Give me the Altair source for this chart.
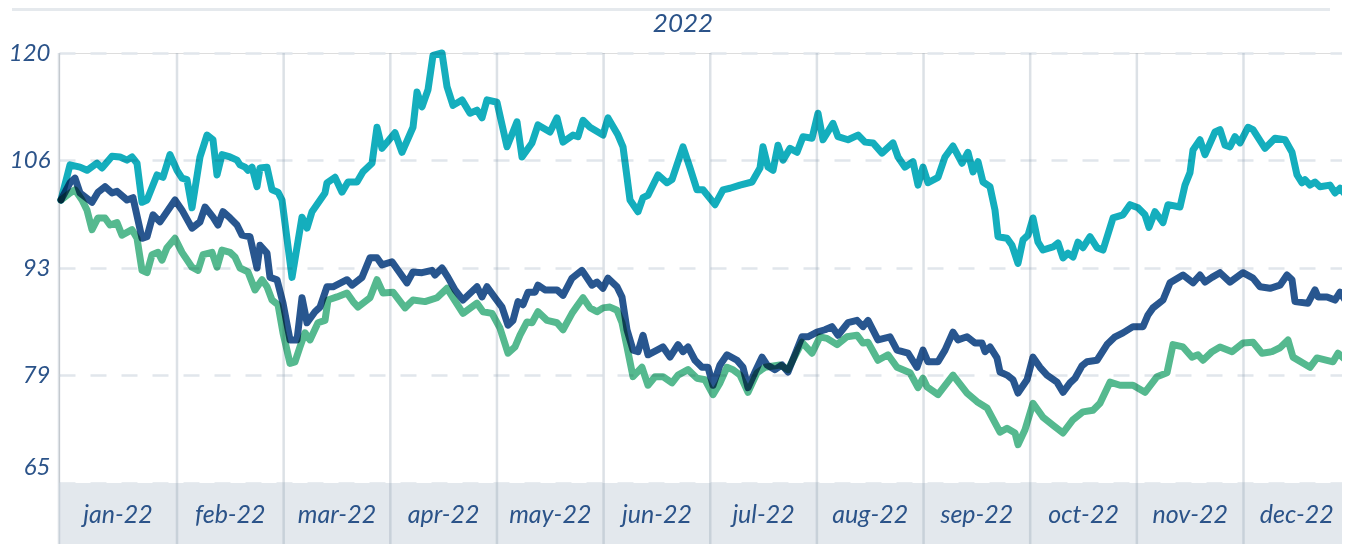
import altair as alt
import pandas as pd

# ---------------- data ----------------
# x = trading-day index of the year, y = index level
teal_day = [0, 1.8, 3.8, 5.2, 7.2, 8.2, 10.2, 11.8, 13.2, 14.2,
            15.2, 16.2, 17.2, 19.2, 20.4, 21.8, 23.2, 24.2, 25.2, 26.2,
            27.8, 29.2, 30.4, 31.2, 32.2, 33.8, 35.2, 35.8, 36.8, 37.4,
            38.2, 39.2, 39.8, 41.2, 42.2, 43.4, 44.2, 46.2, 48.2, 49.2,
            50.2, 52.8, 53.2, 54.8, 56.2, 57.4, 59.2, 60.4, 62.2, 63.2,
            64.2, 66.8, 68.2, 70.4, 71.2, 72.2, 73.4, 74.4, 76.2, 77.2,
            78.4, 80.2, 81.8, 83.2, 84.2, 85.2, 87.2, 89.2, 91.2, 92.2,
            94.2, 95.4, 97.8, 99.2, 100.4, 102.4, 103.4, 104.4, 105.8, 108.4,
            109.4, 111.4, 112.4, 113.8, 115.4, 116.4, 117.4, 119.4, 121.2, 122.2,
            124.4, 125.8, 127.2, 128.4, 130.8, 132.4, 133.8, 135.8, 138.2, 139.8,
            140.4, 141.4, 142.4, 143.4, 144.4, 145.8, 147.2, 148.4, 150.2, 151.4,
            152.4, 154.4, 155.4, 157.4, 159.4, 160.8, 162.4, 164.2, 166.4, 167.4,
            168.8, 170.4, 171.4, 172.4, 173.4, 175.4, 176.8, 178.4, 180.2, 181.4,
            182.4, 183.4, 184.4, 185.8, 186.8, 187.4, 189.2, 190.2, 191.4, 192.4,
            193.4, 194.4, 195.4, 196.4, 198.4, 199.4, 200.4, 201.4, 202.4, 203.4,
            204.4, 205.8, 207.2, 208.4, 210.4, 212.4, 213.8, 215.4, 216.8, 217.6,
            218.8, 220.4, 221.4, 223.8, 224.8, 225.8, 226.4, 227.8, 228.8, 230.8,
            231.8, 232.8, 233.8, 234.8, 235.8, 237.4, 238.4, 240.8, 242.8, 244.8,
            246.2, 247.2, 248.2, 248.8, 249.8, 250.8, 251.8, 253.8, 254.8, 255.8,
            257.0]
teal_val = [101.2, 105.7, 105.4, 105.0, 105.9, 105.3, 106.8, 106.7, 106.3, 106.7,
            105.9, 100.9, 101.2, 104.4, 104.1, 107.0, 105.0, 104.0, 103.8, 100.2,
            106.7, 109.5, 108.9, 104.4, 107.0, 106.7, 106.3, 105.7, 105.4, 105.0,
            105.4, 102.9, 105.3, 105.4, 102.5, 102.2, 101.2, 91.3, 99.0, 97.6,
            99.7, 102.1, 103.4, 104.1, 102.2, 103.5, 103.5, 104.8, 105.9, 110.5,
            107.8, 109.8, 107.3, 110.5, 115.0, 113.1, 115.3, 119.7, 120.0, 115.7,
            113.3, 114.0, 112.3, 112.7, 111.7, 114.0, 113.7, 108.0, 111.2, 106.7,
            108.5, 110.8, 109.9, 111.7, 108.6, 109.5, 109.3, 111.4, 110.5, 109.5,
            111.7, 109.5, 108.0, 101.2, 99.7, 101.5, 101.8, 104.4, 103.4, 103.8,
            108.0, 105.3, 102.5, 102.5, 100.6, 102.5, 102.7, 103.1, 103.5, 105.3,
            108.0, 105.4, 105.0, 108.2, 106.3, 107.8, 107.3, 109.3, 109.1, 112.3,
            108.9, 111.0, 109.3, 108.9, 109.5, 108.6, 108.5, 107.2, 108.5, 106.7,
            105.4, 106.1, 103.1, 105.4, 103.4, 104.1, 106.7, 108.1, 105.9, 107.3,
            104.8, 106.1, 103.5, 102.9, 99.9, 96.5, 96.3, 95.4, 93.1, 96.1,
            96.7, 98.9, 95.8, 94.8, 95.2, 95.7, 93.8, 94.4, 93.9, 95.8,
            95.1, 96.5, 95.1, 94.8, 98.9, 99.3, 100.6, 100.2, 99.3, 97.7,
            99.7, 98.3, 100.6, 100.3, 103.1, 104.7, 107.6, 108.9, 107.0, 109.9,
            110.2, 108.2, 108.0, 109.3, 108.5, 110.5, 110.2, 107.8, 109.1, 108.9,
            107.3, 104.4, 103.4, 103.8, 103.1, 103.5, 102.9, 103.1, 102.1, 102.7,
            101.8]

blue_day = [0, 1.8, 2.8, 3.8, 6.2, 7.4, 8.8, 10.2, 11.2, 13.2,
            14.4, 16.2, 17.2, 18.4, 19.8, 22.8, 24.2, 26.2, 27.8, 28.8,
            30.4, 31.4, 32.4, 33.8, 35.2, 36.2, 37.8, 39.2, 39.8, 41.2,
            41.8, 43.2, 44.4, 45.8, 47.2, 48.2, 49.2, 50.8, 51.8, 53.2,
            54.4, 57.2, 58.2, 60.2, 61.8, 63.2, 64.2, 66.2, 67.4, 69.2,
            70.4, 72.2, 74.2, 74.8, 76.2, 77.4, 78.8, 80.4, 83.2, 84.2,
            85.2, 86.8, 88.2, 89.4, 90.4, 91.4, 92.4, 93.4, 94.8, 95.4,
            96.8, 99.2, 100.4, 102.2, 104.2, 106.2, 107.2, 108.4, 109.4, 111.2,
            112.2, 113.2, 114.4, 115.4, 116.4, 117.4, 119.2, 120.4, 121.8, 123.4,
            124.4, 125.4, 126.8, 128.2, 129.4, 130.4, 131.8, 133.2, 135.2, 136.4,
            137.4, 138.8, 140.2, 141.2, 142.8, 144.2, 145.4, 148.2, 149.4, 151.2,
            152.8, 154.2, 155.4, 157.4, 159.2, 160.4, 161.4, 163.4, 165.8, 167.2,
            169.4, 171.2, 172.4, 173.4, 175.4, 176.8, 178.4, 179.4, 181.2, 182.8,
            184.2, 184.8, 185.8, 187.2, 187.8, 189.2, 190.4, 191.4, 193.2, 194.4,
            195.8, 197.2, 199.2, 200.4, 201.8, 202.8, 204.2, 205.2, 207.2, 209.2,
            210.8, 212.4, 214.4, 216.4, 217.4, 218.4, 220.4, 221.8, 224.4, 226.4,
            227.8, 228.8, 230.2, 231.8, 233.8, 236.4, 238.4, 239.8, 241.8, 243.8,
            245.2, 246.2, 246.8, 249.4, 250.8, 251.4, 253.2, 254.8, 255.8, 257.0]
blue_val = [101.2, 103.4, 104.0, 102.1, 100.9, 102.2, 102.9, 102.1, 102.3, 101.2,
            101.5, 96.3, 96.5, 99.3, 98.4, 101.2, 99.9, 97.6, 98.4, 100.3,
            99.0, 98.0, 99.7, 98.9, 98.0, 96.7, 96.5, 92.5, 95.4, 94.4,
            91.3, 91.0, 88.0, 83.3, 83.3, 88.7, 85.5, 86.9, 87.5, 90.1,
            90.1, 91.0, 90.3, 91.3, 93.8, 93.8, 92.9, 93.3, 92.2, 90.6,
            92.0, 91.9, 92.2, 91.6, 92.5, 91.3, 89.7, 88.4, 90.1, 88.8,
            90.1, 88.7, 87.5, 85.2, 85.8, 88.2, 87.8, 89.4, 89.4, 90.3,
            89.7, 89.7, 89.0, 91.2, 92.2, 90.3, 90.7, 89.9, 91.2, 90.1,
            88.8, 84.6, 82.0, 81.8, 83.9, 81.4, 82.0, 82.4, 81.1, 82.7,
            81.8, 82.4, 80.7, 79.8, 79.8, 77.5, 80.1, 81.4, 80.7, 79.8,
            77.2, 79.2, 81.1, 80.1, 79.5, 80.1, 79.2, 83.7, 83.7, 84.3,
            84.6, 85.0, 83.9, 85.5, 85.8, 85.0, 85.8, 83.3, 83.7, 82.0,
            81.6, 79.8, 82.0, 80.5, 80.5, 82.0, 84.3, 83.3, 83.7, 82.9,
            82.9, 81.8, 82.4, 81.0, 79.2, 78.8, 78.2, 76.5, 78.2, 81.1,
            79.8, 78.8, 77.9, 76.6, 77.8, 78.4, 80.0, 80.5, 80.7, 82.7,
            83.7, 84.2, 85.0, 85.0, 86.5, 87.4, 88.4, 90.6, 91.6, 90.6,
            91.6, 90.7, 91.3, 91.9, 90.7, 91.9, 91.2, 90.1, 89.9, 90.3,
            91.6, 91.0, 88.2, 88.0, 89.7, 88.8, 88.8, 88.4, 89.4, 88.2]

green_day = [0, 1.8, 2.8, 4.2, 5.2, 6.2, 7.4, 8.8, 9.8, 11.2,
             12.2, 14.2, 15.2, 16.2, 17.2, 18.2, 19.4, 20.2, 21.2, 22.8,
             24.2, 26.2, 27.4, 28.4, 30.2, 31.2, 32.2, 33.8, 34.8, 35.8,
             37.4, 38.8, 40.2, 41.2, 42.2, 43.4, 44.4, 45.8, 46.8, 47.8,
             48.8, 49.8, 51.4, 52.8, 53.4, 55.2, 57.2, 58.4, 59.4, 61.8,
             63.2, 64.4, 66.4, 68.8, 70.4, 72.8, 75.2, 77.2, 77.8, 80.4,
             83.2, 84.4, 86.2, 87.8, 89.4, 90.8, 91.8, 93.2, 94.2, 95.4,
             97.2, 99.2, 100.4, 102.2, 103.4, 104.4, 105.8, 107.2, 108.4, 109.8,
             111.2, 112.2, 113.2, 114.4, 116.2, 117.4, 118.8, 120.4, 122.2, 123.4,
             125.4, 127.2, 128.8, 130.4, 131.8, 133.2, 134.4, 135.8, 137.4, 139.2,
             140.8, 143.8, 145.4, 148.2, 150.2, 151.8, 153.2, 155.2, 157.2, 159.2,
             160.4, 161.4, 163.4, 165.4, 167.2, 169.8, 171.4, 172.4, 173.2, 175.4,
             178.4, 181.2, 183.2, 185.2, 187.8, 189.2, 190.8, 191.4, 192.8, 194.4,
             196.4, 198.4, 200.4, 202.4, 204.4, 206.4, 207.8, 209.8, 211.8, 214.4,
             216.8, 219.2, 221.2, 222.4, 224.4, 226.2, 227.4, 228.4, 230.2, 231.8,
             234.2, 236.4, 238.4, 240.2, 242.2, 243.8, 245.4, 246.4, 249.8, 251.2,
             254.4, 255.4, 257.0]
green_val = [101.2, 102.1, 102.5, 101.2, 99.9, 97.4, 98.9, 98.9, 98.0, 98.3,
             96.7, 97.4, 96.3, 92.2, 91.9, 94.2, 94.5, 93.5, 95.1, 96.3,
             94.5, 92.6, 92.2, 94.2, 94.5, 92.6, 94.8, 94.5, 93.9, 92.5,
             92.0, 89.7, 91.0, 90.1, 88.4, 87.8, 84.2, 80.3, 80.5, 82.4,
             84.2, 83.3, 85.5, 85.8, 88.4, 88.8, 89.3, 88.2, 87.5, 88.7,
             91.0, 89.3, 89.4, 87.4, 88.4, 88.2, 88.7, 89.9, 89.3, 86.7,
             88.0, 86.9, 86.7, 84.8, 81.6, 82.4, 83.9, 85.6, 85.5, 86.9,
             85.8, 85.5, 84.6, 86.7, 87.8, 88.7, 87.4, 86.9, 87.4, 87.5,
             87.1, 85.5, 82.4, 78.6, 79.8, 77.5, 78.6, 78.6, 77.8, 78.8,
             79.5, 78.4, 78.2, 76.3, 77.8, 79.8, 79.5, 78.8, 76.6, 79.1,
             79.8, 80.1, 79.5, 83.0, 81.6, 83.7, 83.5, 82.7, 83.7, 83.9,
             82.9, 83.0, 80.7, 81.4, 79.8, 79.1, 77.2, 78.4, 77.3, 76.3,
             78.8, 76.5, 75.4, 74.6, 71.5, 72.0, 71.4, 69.9, 71.8, 75.2,
             73.4, 72.4, 71.4, 73.1, 74.1, 74.3, 75.2, 77.9, 77.5, 77.5,
             76.6, 78.6, 79.1, 82.7, 82.4, 81.1, 81.4, 80.7, 81.8, 82.4,
             81.8, 82.9, 83.0, 81.6, 81.8, 82.3, 83.3, 81.1, 79.8, 81.0,
             80.5, 81.6, 80.7]

series_names = ["serie 1", "serie 2", "serie 3"]
series_colors = ["#14AEBD", "#28568F", "#55B98F"]

months = ["jan-22", "feb-22", "mar-22", "apr-22", "may-22", "jun-22",
          "jul-22", "aug-22", "sep-22", "oct-22", "nov-22", "dec-22"]
# first trading-day index of feb..dec (in the chart's x units)
month_starts = [23.2, 44.53, 65.86, 87.19, 108.52, 129.85,
                151.18, 172.51, 193.84, 215.17, 236.5]
YEAR_END = 257.8   # right end of the december column

y_ticks = [65, 78.75, 92.5, 106.25, 120]
year_title = "2022"

# ---------------- layout constants ----------------
PX_PER_DAY = 5.0
X_MIN = -0.4
W = 1283                      # keeps the page from overflowing horizontally
X_MAX = X_MIN + W / PX_PER_DAY
Y_LOW, Y_TOP = 65, 120
H_MAIN = 430          # pixels for the 65..120 range
H_BAND = 61           # bottom band with month labels
H = H_MAIN + H_BAND
Y_MIN = Y_LOW - H_BAND * (Y_TOP - Y_LOW) / H_MAIN

TXT = "#2B5389"
FONT = "Lato"

# ---------------- tables ----------------
rows = []
for name, days, vals in [(series_names[0], teal_day, teal_val),
                         (series_names[2], green_day, green_val),
                         (series_names[1], blue_day, blue_val)]:
    assert len(days) == len(vals), name
    for d, v in zip(days, vals):
        rows.append({"day": d, "value": v, "serie": name})
df = pd.DataFrame(rows)

bounds = [X_MIN] + month_starts + [YEAR_END]
month_df = pd.DataFrame({
    "label": months,
    "center": [(bounds[i] + bounds[i + 1]) / 2 for i in range(len(months))],
})
vline_df = pd.DataFrame({"pos": [X_MIN] + month_starts})
band_df = pd.DataFrame({"x0": [X_MIN], "x1": [YEAR_END], "y0": [Y_MIN], "y1": [Y_LOW]})

xscale = alt.Scale(domain=[X_MIN, X_MAX], nice=False, zero=False)
yscale = alt.Scale(domain=[Y_MIN, Y_TOP], nice=False, zero=False)

y_axis = alt.Axis(
    values=y_ticks,
    labelExpr="round(datum.value)",
    title=None,
    ticks=False,
    domain=False,
    grid=True,
    gridDash=[16, 15],
    gridColor="#E1E6EC",
    gridWidth=2.5,
    labelFont=FONT,
    labelFontStyle="italic",
    labelFontSize=24,
    labelColor=TXT,
    labelPadding=9,
    labelOffset={"condition": {"test": "datum.value == 65", "value": -16}, "value": 0},
)

band = alt.Chart(band_df).mark_rect(color="#E3E8ED").encode(
    x=alt.X("x0:Q", scale=xscale, axis=None),
    x2="x1",
    y=alt.Y("y0:Q", scale=yscale, axis=y_axis),
    y2="y1",
)

vlines = alt.Chart(vline_df).mark_rule(
    color="#8C9BAD", opacity=0.3, strokeWidth=2.5
).encode(
    x=alt.X("pos:Q", scale=xscale, axis=None),
    y=alt.value(0),
    y2=alt.value(H),
)

lines = alt.Chart(df).mark_line(
    strokeWidth=7, strokeJoin="round", strokeCap="round", blend="multiply"
).encode(
    x=alt.X("day:Q", scale=xscale, axis=None),
    y=alt.Y("value:Q", scale=yscale, axis=y_axis),
    color=alt.Color("serie:N", scale=alt.Scale(domain=series_names, range=series_colors), legend=None),
    detail="serie:N",
    order=alt.Order("day:Q"),
)

month_text = alt.Chart(month_df).mark_text(
    font=FONT, fontStyle="italic", fontSize=25, color=TXT, baseline="middle", align="center"
).encode(
    x=alt.X("center:Q", scale=xscale, axis=None),
    y=alt.value(H_MAIN + 32),
    text="label:N",
)

title_text = alt.Chart(pd.DataFrame({"t": [year_title]})).mark_text(
    font=FONT, fontStyle="italic", fontSize=26, color=TXT, baseline="middle", align="center"
).encode(
    x=alt.value(624),
    y=alt.value(-29),
    text="t:N",
)

top_line = alt.Chart(pd.DataFrame({"t": [0]})).mark_rule(
    color="#E5E9ED", strokeWidth=3
).encode(
    x=alt.value(-47),
    x2=alt.value(1271),
    y=alt.value(-43.5),
)

chart = alt.layer(band, vlines, lines, month_text, title_text, top_line).properties(
    width=W,
    height=H,
    padding={"left": 51, "top": 45, "right": 0, "bottom": 0},
    autosize=alt.AutoSizeParams(type="none"),
).configure_view(stroke=None).configure(background="white")

chart.save("out.html", embed_options={"renderer": "svg", "actions": False})
